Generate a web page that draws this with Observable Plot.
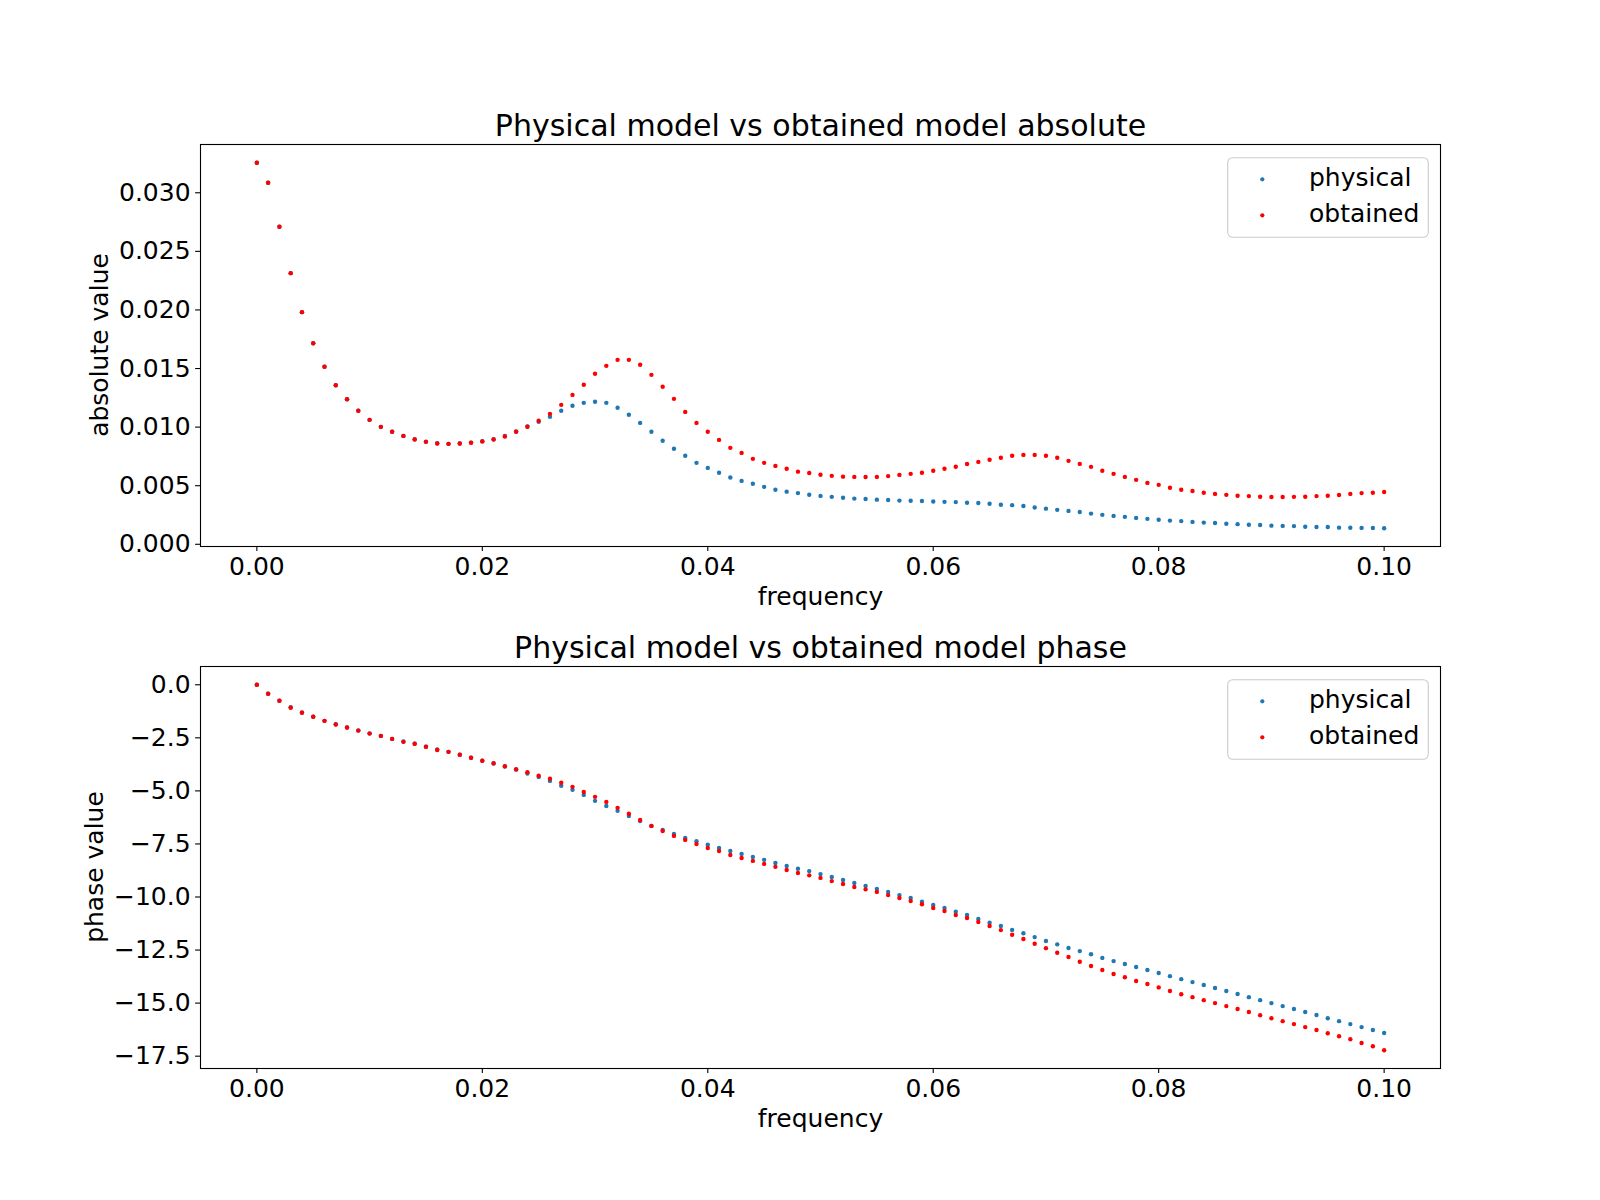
<!DOCTYPE html>
<html>
<head>
<meta charset="utf-8">
<script src="https://cdn.jsdelivr.net/npm/d3@7"></script>
<script src="https://cdn.jsdelivr.net/npm/@observablehq/plot@0.6"></script>
<style>
  html, body { margin: 0; padding: 0; background: #fff; }
  #chart { position: relative; width: 1600px; height: 1200px; background: #fff; }
  #chart svg { display: block; }
</style>
</head>
<body>
<div id="chart"></div>
<script>
// ---------- data ----------
const frequency = [
  0.000,0.001,0.002,0.003,0.004,0.005,0.006,0.007,0.008,0.009,
  0.010,0.011,0.012,0.013,0.014,0.015,0.016,0.017,0.018,0.019,
  0.020,0.021,0.022,0.023,0.024,0.025,0.026,0.027,0.028,0.029,
  0.030,0.031,0.032,0.033,0.034,0.035,0.036,0.037,0.038,0.039,
  0.040,0.041,0.042,0.043,0.044,0.045,0.046,0.047,0.048,0.049,
  0.050,0.051,0.052,0.053,0.054,0.055,0.056,0.057,0.058,0.059,
  0.060,0.061,0.062,0.063,0.064,0.065,0.066,0.067,0.068,0.069,
  0.070,0.071,0.072,0.073,0.074,0.075,0.076,0.077,0.078,0.079,
  0.080,0.081,0.082,0.083,0.084,0.085,0.086,0.087,0.088,0.089,
  0.090,0.091,0.092,0.093,0.094,0.095,0.096,0.097,0.098,0.099,
  0.100
];

const physicalAbs = [
  0.03256,0.03085,0.02710,0.02314,0.01981,0.01716,0.01515,0.01357,0.01238,0.01139,
  0.01062,0.01002,0.00960,0.00925,0.00896,0.00876,0.00862,0.00857,0.00860,0.00868,
  0.00880,0.00897,0.00924,0.00962,0.01005,0.01045,0.01088,0.01139,0.01182,0.01207,
  0.01216,0.01207,0.01165,0.01105,0.01036,0.00960,0.00883,0.00815,0.00755,0.00695,
  0.00652,0.00610,0.00570,0.00541,0.00516,0.00490,0.00466,0.00449,0.00437,0.00423,
  0.00413,0.00405,0.00397,0.00390,0.00386,0.00381,0.00378,0.00373,0.00371,0.00369,
  0.00365,0.00362,0.00360,0.00355,0.00352,0.00346,0.00338,0.00334,0.00327,0.00314,
  0.00304,0.00294,0.00285,0.00276,0.00262,0.00251,0.00242,0.00234,0.00225,0.00217,
  0.00209,0.00202,0.00198,0.00191,0.00185,0.00181,0.00175,0.00172,0.00167,0.00164,
  0.00159,0.00157,0.00155,0.00150,0.00148,0.00147,0.00142,0.00141,0.00140,0.00139,
  0.00137
];

const obtainedAbs = [
  0.03256,0.03085,0.02710,0.02314,0.01981,0.01716,0.01515,0.01357,0.01238,0.01139,
  0.01062,0.01002,0.00960,0.00925,0.00894,0.00874,0.00860,0.00857,0.00860,0.00866,
  0.00877,0.00894,0.00920,0.00960,0.01003,0.01054,0.01113,0.01190,0.01275,0.01361,
  0.01455,0.01523,0.01574,0.01574,0.01532,0.01446,0.01344,0.01241,0.01130,0.01036,
  0.00960,0.00891,0.00823,0.00780,0.00729,0.00695,0.00669,0.00644,0.00620,0.00608,
  0.00594,0.00584,0.00577,0.00575,0.00574,0.00575,0.00582,0.00592,0.00601,0.00611,
  0.00627,0.00644,0.00662,0.00685,0.00703,0.00721,0.00738,0.00755,0.00763,0.00763,
  0.00755,0.00738,0.00712,0.00686,0.00661,0.00628,0.00601,0.00575,0.00550,0.00524,
  0.00507,0.00483,0.00465,0.00455,0.00440,0.00430,0.00422,0.00414,0.00411,0.00406,
  0.00404,0.00404,0.00405,0.00406,0.00411,0.00414,0.00421,0.00430,0.00437,0.00440,
  0.00446
];

const physicalPhase = [
  0.00,-0.42,-0.75,-1.06,-1.31,-1.51,-1.70,-1.86,-2.01,-2.15,
  -2.29,-2.41,-2.55,-2.67,-2.78,-2.92,-3.05,-3.16,-3.30,-3.44,
  -3.58,-3.71,-3.85,-4.00,-4.18,-4.34,-4.53,-4.76,-4.95,-5.19,
  -5.47,-5.71,-5.94,-6.18,-6.42,-6.65,-6.84,-7.03,-7.22,-7.37,
  -7.54,-7.69,-7.83,-7.97,-8.11,-8.25,-8.40,-8.54,-8.67,-8.78,
  -8.92,-9.06,-9.20,-9.34,-9.48,-9.62,-9.76,-9.91,-10.05,-10.22,
  -10.38,-10.52,-10.69,-10.85,-11.04,-11.21,-11.37,-11.55,-11.71,-11.89,
  -12.07,-12.23,-12.40,-12.55,-12.70,-12.87,-13.02,-13.16,-13.30,-13.44,
  -13.58,-13.73,-13.87,-14.01,-14.15,-14.29,-14.43,-14.57,-14.72,-14.86,
  -15.00,-15.14,-15.28,-15.42,-15.56,-15.71,-15.85,-15.99,-16.13,-16.27,
  -16.41
];

const obtainedPhase = [
  0.00,-0.42,-0.75,-1.08,-1.32,-1.51,-1.70,-1.87,-2.01,-2.16,
  -2.30,-2.41,-2.55,-2.69,-2.78,-2.92,-3.07,-3.16,-3.30,-3.44,
  -3.58,-3.70,-3.84,-3.98,-4.12,-4.29,-4.43,-4.62,-4.81,-5.05,
  -5.28,-5.52,-5.80,-6.08,-6.37,-6.65,-6.89,-7.12,-7.31,-7.50,
  -7.69,-7.83,-8.02,-8.16,-8.30,-8.44,-8.58,-8.73,-8.87,-8.98,
  -9.10,-9.25,-9.39,-9.53,-9.64,-9.76,-9.91,-10.05,-10.19,-10.34,
  -10.52,-10.66,-10.85,-10.99,-11.18,-11.37,-11.56,-11.78,-11.98,-12.20,
  -12.41,-12.63,-12.83,-13.05,-13.25,-13.44,-13.63,-13.78,-13.96,-14.10,
  -14.26,-14.43,-14.58,-14.72,-14.86,-15.00,-15.14,-15.28,-15.42,-15.57,
  -15.71,-15.85,-15.99,-16.13,-16.27,-16.42,-16.56,-16.70,-16.88,-17.03,
  -17.22
];

const seriesNames = ["physical", "obtained"];
const seriesColors = ["#1f77b4", "#ff0000"];
const xTicks = [0, 0.02, 0.04, 0.06, 0.08, 0.10];
const absTicks = [0, 0.005, 0.010, 0.015, 0.020, 0.025, 0.030];
const phaseTicks = [0, -2.5, -5, -7.5, -10, -12.5, -15, -17.5];
const titles = ["Physical model vs obtained model absolute", "Physical model vs obtained model phase"];
const xLabel = "frequency";
const yLabels = ["absolute value", "phase value"];

// ---------- helpers ----------
const FONT = "DejaVu Sans";
const ML = 200, MR = 160;
function padded(values) {
  const [lo, hi] = d3.extent(values);
  const m = (hi - lo) * 0.05;
  return [lo - m, hi + m];
}
const xDomain = padded(frequency);

function rows(ys) { return frequency.map((f, i) => ({f, v: ys[i]})); }

function panel({phys, obt, ticks, tickFormat, title, yLabel, labelX, marginTop, marginBottom}) {
  const yDomain = padded(phys.concat(obt));
  const svg = Plot.plot({
    width: 1600,
    height: 600,
    marginLeft: ML,
    marginRight: MR,
    marginTop,
    marginBottom,
    style: {fontFamily: FONT, fontSize: "25px", background: "white", color: "black", overflow: "visible"},
    x: {domain: xDomain},
    y: {domain: yDomain},
    marks: [
      Plot.dot(rows(phys), {x: "f", y: "v", r: 2.2, fill: seriesColors[0], stroke: "none"}),
      Plot.dot(rows(obt), {x: "f", y: "v", r: 2.2, fill: seriesColors[1], stroke: "none"}),
      Plot.frame({stroke: "black", strokeWidth: 1.1}),
      Plot.axisX({ticks: xTicks, tickFormat: d3.format(".2f"), tickSize: 4.9, tickPadding: 6, label: null, fontSize: 25, strokeWidth: 1.1}),
      Plot.axisY({ticks, tickFormat, tickSize: 4.9, tickPadding: 5, label: null, fontSize: 25, strokeWidth: 1.1}),
      Plot.text([title], {text: d => d, frameAnchor: "top", dy: -8.3, lineAnchor: "bottom", fontSize: 30, fill: "black"}),
      Plot.text([xLabel], {text: d => d, frameAnchor: "bottom", dy: 58.6, lineAnchor: "bottom", fontSize: 25, fill: "black"})
    ]
  });
  // rotated y-axis label (baseline to the right, reading bottom-to-top)
  const cy = marginTop + (600 - marginTop - marginBottom) / 2;
  d3.select(svg).append("text")
    .attr("transform", `translate(${labelX},${cy}) rotate(-90)`)
    .attr("text-anchor", "middle")
    .attr("font-family", FONT).attr("font-size", 25).attr("fill", "black")
    .text(yLabel);
  return svg;
}

function addLegend(svg, boxTop) {
  const g = d3.select(svg).append("g")
    .attr("font-family", FONT).attr("font-size", 25).attr("text-anchor", "start");
  g.append("rect")
    .attr("x", 1227.7).attr("y", boxTop).attr("width", 200.6).attr("height", 79.6)
    .attr("rx", 5).attr("ry", 5)
    .attr("fill", "white").attr("fill-opacity", 0.8)
    .attr("stroke", "#cccccc").attr("stroke-width", 1.1);
  seriesNames.forEach((name, i) => {
    g.append("circle").attr("cx", 1262.3).attr("cy", boxTop + 21.6 + i * 36).attr("r", 2.1).attr("fill", seriesColors[i]);
    g.append("text").attr("x", 1309).attr("y", boxTop + 28 + i * 36)
      .attr("text-anchor", "start").attr("fill", "black").text(name);
  });
}

const chartEl = document.getElementById("chart");

const topPanel = panel({
  phys: physicalAbs, obt: obtainedAbs, ticks: absTicks, tickFormat: d3.format(".3f"),
  title: titles[0], yLabel: yLabels[0], labelX: 107.8, marginTop: 144, marginBottom: 54
});
addLegend(topPanel, 157.7);
chartEl.appendChild(topPanel);

const bottomPanel = panel({
  phys: physicalPhase, obt: obtainedPhase, ticks: phaseTicks, tickFormat: d3.format(".1f"),
  title: titles[1], yLabel: yLabels[1], labelX: 102.5, marginTop: 66, marginBottom: 132
});
addLegend(bottomPanel, 79.7);
chartEl.appendChild(bottomPanel);
</script>
</body>
</html>
